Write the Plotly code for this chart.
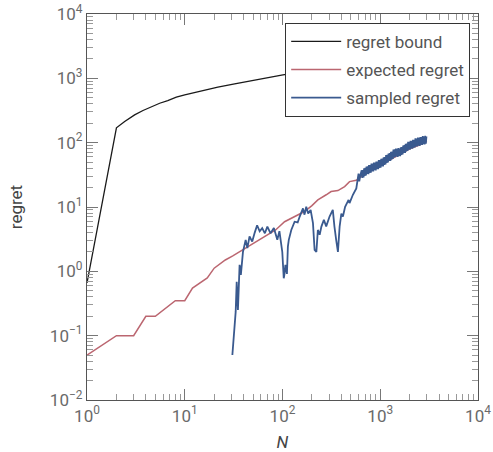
import plotly.graph_objects as go

# regret bound
bound_n = [1, 2, 2.43, 3.07, 3.74, 4.55, 5.54, 6.7, 8.2, 10, 14.8, 21.8, 32.4, 48, 71, 101,
           200, 500, 1000, 2000, 3000]
bound_y = [0.66, 170, 213, 270, 316, 364, 410, 452, 509, 553, 640, 730, 820, 925, 1018, 1133,
           1330, 1620, 1850, 2100, 2250]

# expected regret
exp_n = [1, 2, 3, 4, 5, 6, 7, 8, 9, 10, 12, 15, 17, 20, 26, 31, 39, 57, 85, 105, 130, 168,
         200, 230, 280, 314, 369, 432, 485, 569, 700, 900, 1200, 1585, 2000, 2500, 3000]
exp_y = [0.05, 0.1, 0.1, 0.2, 0.2, 0.25, 0.3, 0.35, 0.35, 0.35, 0.55, 0.69, 0.79, 1.12, 1.5,
         1.74, 2.15, 3.07, 4.4, 5.9, 7.0, 8.5, 10.5, 12.9, 15.5, 17.4, 18, 20.8, 24.8, 26, 33,
         42, 52, 65, 80, 92, 105]

# sampled regret, early part (N < 650)
smp_n_early = [30.7, 33.2, 34, 35, 36.4, 37.5, 39.4, 42, 43.7, 46, 49, 52, 55, 58.4, 62, 66,
               70, 75.5, 81.6, 88.5, 93, 99.5, 103, 105, 107, 111, 113.5, 116, 123, 133, 143,
               150, 162, 168, 175, 183, 194, 205, 213, 222, 230, 240, 250, 265, 280, 303, 327,
               340, 354, 369, 384, 400, 415, 437, 474, 485, 525, 569, 590, 600, 610, 625]
smp_y_early = [0.05, 0.236, 0.69, 0.25, 1.26, 0.88, 2.0, 3.08, 2.3, 3.5, 2.9, 4.0, 5.2, 4.2,
               4.7, 3.9, 4.96, 3.9, 4.7, 3.1, 4.2, 2.0, 0.78, 0.93, 1.26, 0.91, 2.42, 3.08, 4.4,
               5.9, 5.75, 7.1, 9.5, 7.6, 10.1, 7.9, 9.0, 5.6, 2.15, 2.0, 4.4, 3.7, 4.96, 6.3,
               5.0, 7.1, 9.0, 4.96, 3.08, 2.0, 4.96, 7.9, 7.1, 10.1, 12.9, 11.5, 15.5, 19.5, 28,
               33, 25, 31]

# sampled regret, late part (N >= 646): rapid fluctuation between upper and lower values
smp_n_late = [646, 655, 665, 675, 684, 694, 704, 714, 724, 735, 746, 757, 767, 778, 790, 801,
              813, 825, 836, 848, 861, 873, 886, 899, 912, 925, 939, 953, 966, 980, 994, 1008,
              1023, 1038, 1053, 1068, 1084, 1100, 1116, 1132, 1148, 1165, 1182, 1199, 1216,
              1234, 1252, 1270, 1288, 1307, 1326, 1345, 1365, 1385, 1404, 1424, 1445, 1466,
              1488, 1510, 1531, 1553, 1576, 1599, 1622, 1646, 1669, 1693, 1718, 1743, 1768,
              1794, 1820, 1846, 1873, 1900, 1928, 1956, 1984, 2013, 2042, 2072, 2102, 2132,
              2163, 2194, 2226, 2258, 2291, 2324, 2358, 2392, 2427, 2462, 2497, 2533, 2570,
              2607, 2645, 2683, 2723, 2762, 2802, 2843, 2884, 2926, 2968]
smp_y_late = [37.15, 28.31, 37.50, 28.71, 40.09, 30.38, 40.55, 30.90, 42.66, 32.66, 43.05,
              32.43, 44.77, 33.96, 44.77, 34.08, 47.32, 35.65, 47.32, 35.85, 49.20, 37.50,
              49.20, 37.03, 51.05, 38.68, 50.93, 38.77, 53.83, 40.55, 53.83, 40.79, 55.98,
              42.85, 56.49, 42.76, 59.29, 45.19, 59.84, 45.81, 63.97, 48.42, 64.57, 49.20,
              67.92, 52.06, 68.71, 52.00, 72.11, 55.02, 72.95, 55.91, 78.16, 59.16, 78.89,
              59.43, 81.10, 61.45, 80.17, 59.98, 82.22, 62.02, 81.28, 61.52, 84.92, 64.27,
              85.70, 65.39, 90.36, 69.26, 91.41, 69.18, 95.94, 73.19, 97.05, 74.13, 103.3,
              77.71, 103.0, 78.07, 107.2, 81.57, 106.9, 80.35, 110.7, 83.85, 110.4, 83.95,
              116.4, 87.40, 115.6, 87.40, 119.7, 90.89, 118.9, 89.23, 122.7, 92.79, 121.9,
              92.04, 126.8, 94.73, 124.7, 93.76, 127.6, 96.38, 125.3]

x_tickvals = [1, 10, 100, 1000, 10000]
x_ticktext = ["10<sup>0</sup>", "10<sup>1</sup>", "10<sup>2</sup>", "10<sup>3</sup>", "10<sup>4</sup>"]
y_tickvals = [0.01, 0.1, 1, 10, 100, 1000, 10000]
y_ticktext = ["10<sup>\u22122</sup>", "10<sup>\u22121</sup>", "10<sup>0</sup>", "10<sup>1</sup>",
              "10<sup>2</sup>", "10<sup>3</sup>", "10<sup>4</sup>"]
# minor tick positions: 2..9 within every decade
x_minor = [m * 10 ** d for d in range(0, 4) for m in range(2, 10)]
y_minor = [m * 10.0 ** d for d in range(-2, 4) for m in range(2, 10)]

FONT = "Roboto"
AXIS_COLOR = "#555555"
LABEL_COLOR = "#6a6a6a"

fig = go.Figure()
fig.add_trace(go.Scatter(x=bound_n, y=bound_y, mode="lines", name="regret bound",
                         legendgroup="a", line=dict(color="#1a1a1a", width=1.3)))
fig.add_trace(go.Scatter(x=exp_n, y=exp_y, mode="lines", name="expected regret",
                         legendgroup="b", line=dict(color="#bb6670", width=1.5)))
fig.add_trace(go.Scatter(x=smp_n_early + smp_n_late, y=smp_y_early + smp_y_late,
                         mode="lines", name="sampled regret", legendgroup="c",
                         line=dict(color="#3a5a8f", width=1.8, simplify=False)))


def axis_style(minor_vals):
    return dict(
        type="log",
        automargin=False,
        showgrid=False,
        zeroline=False,
        showline=True,
        linecolor=AXIS_COLOR,
        linewidth=1.3,
        mirror="ticks",
        ticks="inside",
        ticklen=11,
        tickwidth=1,
        tickcolor="#777777",
        tickfont=dict(family=FONT, size=17, color=LABEL_COLOR),
        minor=dict(ticks="inside", ticklen=6, tickwidth=1, tickcolor="#999999",
                   tickmode="array", tickvals=minor_vals, showgrid=False),
    )


fig.update_xaxes(range=[0, 4], tickmode="array", tickvals=x_tickvals, ticktext=x_ticktext,
                 title=dict(text="<i>N</i>", font=dict(family=FONT, size=17, color="#444444")),
                 **axis_style(x_minor))
fig.update_yaxes(range=[-2, 4], tickmode="array", tickvals=y_tickvals, ticktext=y_ticktext,
                 title=dict(text="regret", font=dict(family=FONT, size=17, color="#444444"),
                            standoff=22),
                 **axis_style(y_minor))

fig.update_layout(
    width=493, height=452,
    margin=dict(l=87, r=15, t=14, b=52),
    paper_bgcolor="white",
    plot_bgcolor="white",
    font=dict(family=FONT, color=LABEL_COLOR),
    legend=dict(x=0.98, y=0.977, xanchor="right", yanchor="top",
                bgcolor="white", bordercolor="#333333", borderwidth=1,
                font=dict(family=FONT, size=17, color="#555555"),
                itemwidth=50, traceorder="grouped", tracegroupgap=3),
    showlegend=True,
)

fig.write_html("out.html")
